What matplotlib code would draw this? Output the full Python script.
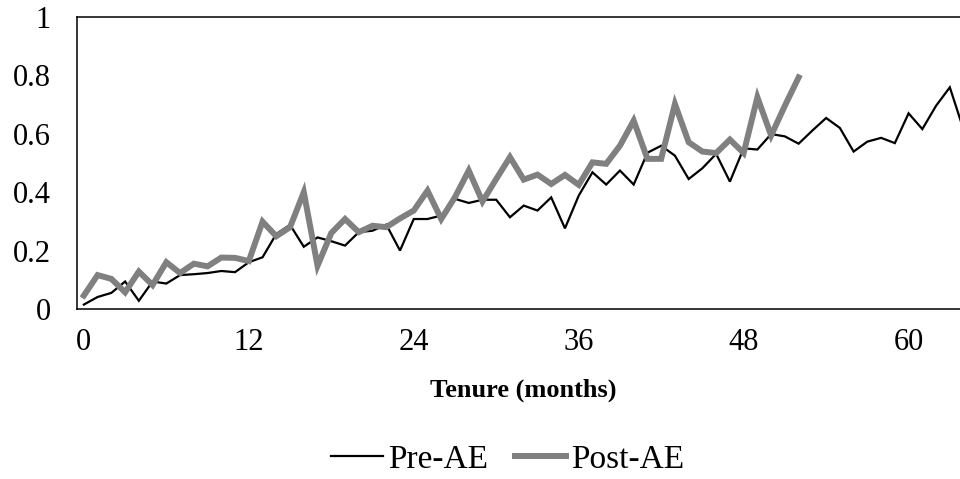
import matplotlib
matplotlib.use("Agg")
import matplotlib.pyplot as plt
import numpy as np
from matplotlib.ticker import FormatStrFormatter

# values, one per month of tenure
pre_ae = [
    0.015, 0.041, 0.055, 0.094, 0.028, 0.094, 0.087, 0.116, 0.119, 0.123,
    0.130, 0.126, 0.160, 0.177, 0.257, 0.288, 0.213, 0.245, 0.232, 0.217,
    0.263, 0.268, 0.289, 0.200, 0.308, 0.308, 0.320, 0.377, 0.363, 0.374,
    0.374, 0.314, 0.354, 0.337, 0.382, 0.276, 0.388, 0.468, 0.426, 0.474,
    0.426, 0.535, 0.559, 0.525, 0.445, 0.482, 0.531, 0.436, 0.550, 0.546,
    0.599, 0.591, 0.566, 0.611, 0.654, 0.620, 0.539, 0.573, 0.586, 0.568,
    0.670, 0.616, 0.696, 0.759, 0.614,
]
post_ae = [
    0.046, 0.116, 0.103, 0.057, 0.128, 0.082, 0.160, 0.123, 0.155, 0.146,
    0.176, 0.175, 0.164, 0.299, 0.249, 0.280, 0.400, 0.148, 0.260, 0.308,
    0.263, 0.285, 0.280, 0.310, 0.337, 0.405, 0.308, 0.383, 0.474, 0.368,
    0.445, 0.520, 0.443, 0.460, 0.428, 0.459, 0.425, 0.502, 0.497, 0.559,
    0.645, 0.514, 0.514, 0.702, 0.571, 0.539, 0.534, 0.580, 0.534, 0.725,
    0.594, 0.696, 0.793,
]
x_ticks = [0, 12, 24, 36, 48, 60]
y_ticks = [0, 0.2, 0.4, 0.6, 0.8, 1.0]

plt.rcParams["font.family"] = ["Liberation Serif", "DejaVu Serif"]

fig = plt.figure(figsize=(9.6, 4.79), dpi=100)
# the axes run past the right edge, as in the cropped original
ax = fig.add_axes([0.0802, 0.355, 0.945, 0.6096])

ax.plot(np.arange(len(pre_ae)), pre_ae, color="black", linewidth=1.6,
        label="Pre-AE", solid_joinstyle="miter")
ax.plot(np.arange(len(post_ae)), post_ae, color="#808080", linewidth=4.3,
        label="Post-AE", solid_joinstyle="miter")

ax.set_xlim(-0.5, 65.5)
ax.set_ylim(0, 1)
ax.set_xticks(x_ticks)
ax.set_yticks(y_ticks)
ax.yaxis.set_major_formatter(FormatStrFormatter("%g"))
ax.tick_params(axis="both", length=0, labelsize=22)
ax.tick_params(axis="y", pad=19)
ax.tick_params(axis="x", pad=14)

for side in ["top", "left", "bottom"]:
    ax.spines[side].set_linewidth(1.1)
ax.spines["right"].set_visible(False)

ax.set_xlabel("Tenure (months)", fontsize=19, fontweight="bold")
ax.xaxis.set_label_coords(0.492, -0.237)

fig.legend(loc="center", bbox_to_anchor=(0.529, 0.04), ncol=2,
           frameon=False, fontsize=24, handlelength=1.55, handletextpad=0.15,
           columnspacing=0.8, borderaxespad=0)

fig.savefig("out.png", dpi=100)
